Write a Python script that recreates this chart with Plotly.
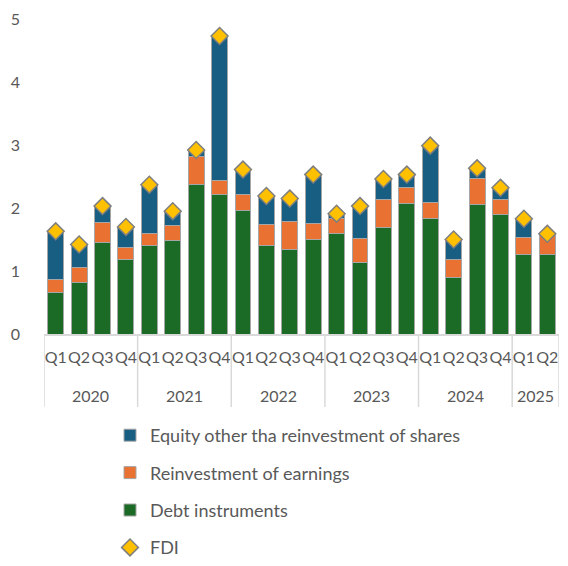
import plotly.graph_objects as go

years = ["2020"]*4 + ["2021"]*4 + ["2022"]*4 + ["2023"]*4 + ["2024"]*4 + ["2025"]*2
quarters = ["Q1", "Q2", "Q3", "Q4"]*5 + ["Q1", "Q2"]
year_labels = ["2020", "2021", "2022", "2023", "2024", "2025"]

debt = [0.66, 0.81, 1.45, 1.19, 1.41, 1.48, 2.37, 2.21, 1.96, 1.40, 1.34,
        1.50, 1.60, 1.13, 1.69, 2.07, 1.84, 0.90, 2.05, 1.89, 1.26, 1.26]
reinvest = [0.20, 0.25, 0.32, 0.19, 0.18, 0.25, 0.44, 0.22, 0.25, 0.34, 0.45,
            0.26, 0.24, 0.38, 0.45, 0.25, 0.25, 0.28, 0.42, 0.24, 0.27, 0.32]
equity = [0.76, 0.36, 0.26, 0.31, 0.77, 0.22, 0.10, 2.30, 0.40, 0.44, 0.35,
          0.77, 0.06, 0.51, 0.31, 0.20, 0.89, 0.31, 0.15, 0.18, 0.29, 0.00]
fdi = [1.63, 1.42, 2.03, 1.70, 2.37, 1.95, 2.92, 4.73, 2.61, 2.19, 2.15,
       2.53, 1.91, 2.03, 2.46, 2.53, 2.99, 1.50, 2.63, 2.32, 1.83, 1.59]

cats = [f"{q} {y}" for y, q in zip(years, quarters)]
text_color = "#595959"
grid_color = "#D9D9D9"
font_family = "Lato, Open Sans, sans-serif"
bar_line = dict(color="#A6A6A6", width=1)

W, H = 552, 550
plot_top, plot_bottom = 11, 326
plot_h = plot_bottom - plot_top

fig = go.Figure()
fig.add_trace(go.Bar(x=cats, y=debt, name="Debt instruments", marker=dict(color="#1B6B27", line=bar_line),
                     legendrank=3, legendgroup="c"))
fig.add_trace(go.Bar(x=cats, y=reinvest, name="Reinvestment of earnings", marker=dict(color="#E97132", line=bar_line),
                     legendrank=2, legendgroup="b"))
fig.add_trace(go.Bar(x=cats, y=equity, name="Equity other tha reinvestment of shares",
                     marker=dict(color="#175E82", line=bar_line), legendrank=1, legendgroup="a"))
fig.add_trace(go.Scatter(x=cats, y=fdi, name="FDI", mode="markers",
                         marker=dict(symbol="diamond", size=13, color="#FFC000",
                                     line=dict(color="#7F7F7F", width=1.5)),
                         legendrank=4, legendgroup="d"))

# year group labels and dividers derived from the category lists
annotations = []
shapes = []
idx = 0
bounds = [-0.5]
for yl in year_labels:
    n = years.count(yl)
    annotations.append(dict(x=idx + (n - 1) / 2, y=-61 / plot_h, xref="x", yref="paper",
                            text=yl, showarrow=False, yanchor="middle",
                            font=dict(size=16, color=text_color)))
    idx += n
    bounds.append(idx - 0.5)
for b in bounds:
    shapes.append(dict(type="line", xref="x", yref="paper", x0=b, x1=b, y0=0, y1=-73 / plot_h,
                       line=dict(color=grid_color, width=1.5)))

fig.update_layout(
    barmode="stack",
    bargap=0.32,
    width=W, height=H,
    margin=dict(l=36, r=1, t=plot_top, b=H - plot_bottom, autoexpand=False),
    plot_bgcolor="white", paper_bgcolor="white",
    font=dict(family=font_family, size=16, color=text_color),
    showlegend=True,
    legend=dict(xref="container", yref="container", x=102 / W, y=1 - 409 / H,
                xanchor="left", yanchor="top", traceorder="grouped",
                tracegroupgap=11, itemwidth=30, font=dict(size=18, color=text_color)),
    annotations=annotations,
    shapes=shapes,
)
fig.update_yaxes(range=[0, 5], tickvals=[0, 1, 2, 3, 4, 5], showgrid=False, zeroline=False,
                 showline=False, ticks="", ticklabelstandoff=23, automargin=False,
                 tickfont=dict(size=16, color=text_color))
fig.update_xaxes(type="category", range=[-0.5, len(cats) - 0.5], tickvals=cats, ticktext=quarters,
                 showline=True, linecolor=grid_color, linewidth=1.5, automargin=False,
                 ticks="", tickangle=0, ticklabelstandoff=8,
                 tickfont=dict(size=16, color=text_color), showgrid=False)

fig.write_html("out.html")
